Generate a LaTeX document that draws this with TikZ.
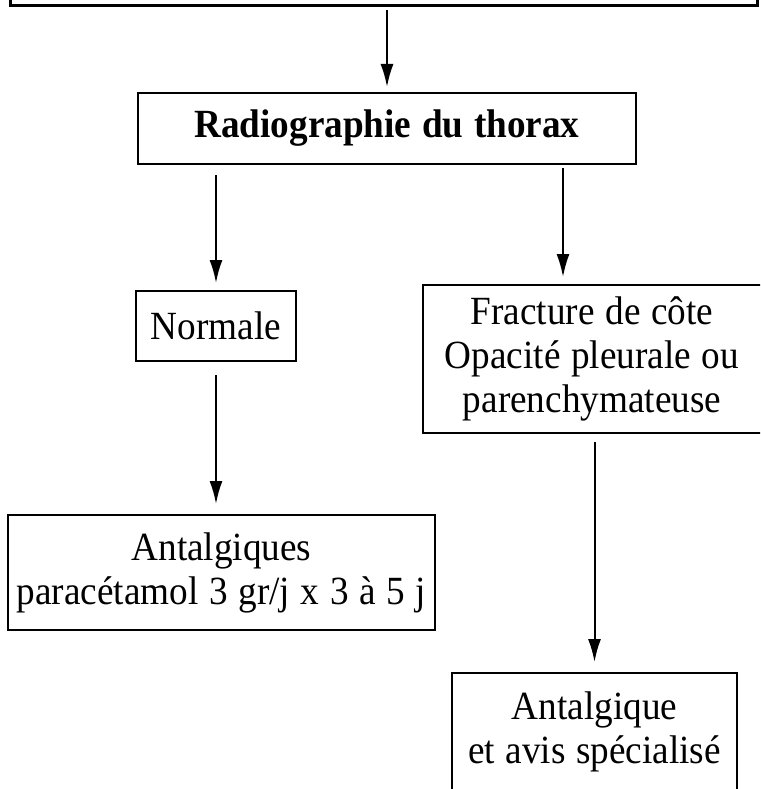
\documentclass[tikz,border=0pt]{standalone}
\usepackage{fontspec}
\setmainfont[FakeStretch=0.93,WordSpace=1.15]{Liberation Serif}
\usetikzlibrary{arrows.meta,calc}
\begin{document}
\begin{tikzpicture}[x=1pt,y=-1pt,
  box/.style={draw, line width=2pt, rectangle, inner sep=0pt, align=center,
    font=\fontsize{40}{44}\selectfont},
  arr/.style={line width=2pt, -{Latex[length=23pt,width=13pt]}},
]
\useasboundingbox (0,0) rectangle (760,789);
\clip (0,0) rectangle (760,789);

% boxes of the decision tree
\node[box, line width=3pt, minimum width=747pt, minimum height=100pt] (entry) at (383.5,-44) {};
\node[box, minimum width=498pt, minimum height=71pt,
      font=\fontsize{40}{44}\selectfont\bfseries] (radio) at (387,128.5) {Radiographie du thorax};
\node[box, minimum width=160pt, minimum height=70pt] (normale) at (216,325.5) {Normale};
\node[box, minimum width=339pt, minimum height=148pt] (fracture) at (592,359) {Fracture de côte\\Opacité pleurale ou\\parenchymateuse};
\node[box, minimum width=427pt, minimum height=115pt] (antalg) at (221.5,572.5) {Antalgiques\\paracétamol 3 gr/j x 3 à 5 j};
\node[box, minimum width=285pt, minimum height=118pt] (avis) at (594.5,732) {Antalgique\\et avis spécialisé};

% connectors
\draw[arr, shorten <=2.5pt, shorten >=5pt] (entry.south -| radio.north) -- (radio.north);
\draw[arr, shorten <=10pt, shorten >=6.5pt] (radio.south -| normale.north) -- (normale.north);
\path (fracture.north) ++(-29pt,0) coordinate (fin);
\draw[arr, shorten <=3pt, shorten >=7pt] (radio.south -| fin) -- (fin);
\draw[arr, shorten <=13.5pt, shorten >=10pt] (normale.south) -- (normale.south |- antalg.north);
\draw[arr, shorten <=8pt, shorten >=10pt] (fracture.south -| avis.north) -- (avis.north);
\end{tikzpicture}
\end{document}
